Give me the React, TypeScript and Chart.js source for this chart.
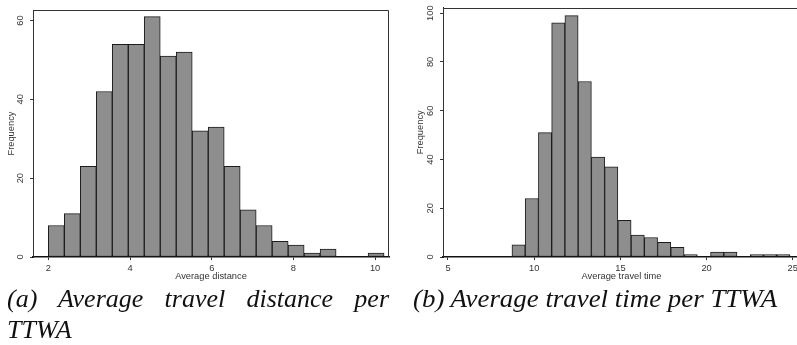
import React, { useEffect, useRef } from "react";
import { Chart, registerables } from "chart.js";

Chart.register(...registerables);

// ---- Data ----
const distanceCounts = [8, 11, 23, 42, 54, 54, 61, 51, 52, 32, 33, 23, 12, 8, 4, 3, 1, 2, 0, 0, 1];
const distanceBinStart = 2.0;
const distanceBinWidth = 0.3914;
const distanceXTicks = [2, 4, 6, 8, 10];
const distanceYTicks = [0, 20, 40, 60];

const timeCounts = [5, 24, 51, 96, 99, 72, 41, 37, 15, 9, 8, 6, 4, 1, 0, 2, 2, 0, 1, 1, 1];
const timeBinStart = 8.71;
const timeBinWidth = 0.768;
const timeXTicks = [5, 10, 15, 20, 25];
const timeYTicks = [0, 20, 40, 60, 80, 100];

const yTitle = "Frequency";
const distanceXTitle = "Average distance";
const timeXTitle = "Average travel time";
const captionA = "(a) Average travel distance per TTWA";
const captionB = "(b) Average travel time per TTWA";

const SANS = '"Liberation Sans", Arimo, Arial, sans-serif';
const SERIF = '"Liberation Serif", "Times New Roman", serif';

const framePlugin = {
  id: "frame",
  afterDatasetsDraw(chart: any) {
    const { ctx, chartArea } = chart;
    const { left, top, right, bottom } = chartArea;
    ctx.save();
    ctx.strokeStyle = "#333";
    ctx.lineWidth = 1;
    ctx.beginPath();
    ctx.moveTo(Math.round(left) + 0.5, bottom);
    ctx.lineTo(Math.round(left) + 0.5, Math.round(top) + 0.5);
    ctx.lineTo(Math.round(right) - 0.5, Math.round(top) + 0.5);
    ctx.lineTo(Math.round(right) - 0.5, bottom);
    ctx.stroke();
    ctx.restore();
  },
};

type HistProps = {
  counts: number[];
  binStart: number;
  binWidth: number;
  xTicks: number[];
  yTicks: number[];
  xTitle: string;
  xMin: number;
  xMax: number;
  yMax: number;
  left: number;
  width: number;
  height: number;
  padRight: number;
  yAxisWidth: number;
  xAxisHeight: number;
  yTickPad: number;
  yTitlePad: number;
};

function Histogram(p: HistProps) {
  const ref = useRef<HTMLCanvasElement | null>(null);
  useEffect(() => {
    if (!ref.current) return;
    const data = p.counts.map((c, i) => ({ x: p.binStart + (i + 0.5) * p.binWidth, y: c }));
    const tickFont = { family: SANS, size: 9.3 };
    const chart = new Chart(ref.current, {
      type: "bar",
      data: {
        datasets: [
          {
            data,
            backgroundColor: "#8e8e8e",
            borderColor: "#1c1c1c",
            borderWidth: 1,
            borderSkipped: false,
            barPercentage: 1,
            categoryPercentage: 1,
          } as any,
        ],
      },
      plugins: [framePlugin],
      options: {
        animation: false,
        responsive: false,
        maintainAspectRatio: false,
        layout: { padding: { left: 0, top: 5, right: p.padRight, bottom: 0 } },
        plugins: { legend: { display: false }, tooltip: { enabled: false } },
        scales: {
          x: {
            type: "linear",
            offset: false,
            min: p.xMin,
            max: p.xMax,
            afterBuildTicks: (s: any) => {
              s.ticks = p.xTicks.map((v) => ({ value: v }));
            },
            afterFit: (s: any) => {
              s.height = p.xAxisHeight;
            },
            ticks: {
              autoSkip: false,
              maxRotation: 0,
              minRotation: 0,
              padding: 3,
              color: "#333",
              font: tickFont,
              callback: (v: any) => String(v),
            },
            grid: {
              display: true,
              offset: false,
              drawOnChartArea: false,
              drawTicks: true,
              tickLength: 3,
              tickColor: "#333",
            },
            border: { display: true, color: "#111", width: 1.5 },
            title: {
              display: true,
              text: p.xTitle,
              color: "#333",
              font: { family: SANS, size: 9.3 },
              padding: { top: 0, bottom: 8.4 },
            },
          },
          y: {
            type: "linear",
            min: 0,
            max: p.yMax,
            afterBuildTicks: (s: any) => {
              s.ticks = p.yTicks.map((v) => ({ value: v }));
            },
            afterFit: (s: any) => {
              s.width = p.yAxisWidth;
            },
            ticks: {
              autoSkip: false,
              minRotation: 90,
              maxRotation: 90,
              crossAlign: "center",
              padding: p.yTickPad,
              color: "#333",
              font: tickFont,
              callback: (v: any) => String(v),
            },
            grid: {
              display: true,
              drawOnChartArea: false,
              drawTicks: true,
              tickLength: 3,
              tickColor: "#333",
            },
            border: { display: true, color: "#222", width: 1 },
            title: {
              display: true,
              text: yTitle,
              color: "#333",
              font: { family: SANS, size: 9.3 },
              padding: { top: p.yTitlePad, bottom: 0 },
            },
          },
        },
      } as any,
    });
    return () => chart.destroy();
  }, []);
  return (
    <canvas
      ref={ref}
      width={p.width}
      height={p.height}
      style={{ position: "absolute", left: p.left, top: 0, width: p.width, height: p.height }}
    />
  );
}

export default function App() {
  return (
    <div
      style={{
        position: "fixed",
        left: 0,
        top: 0,
        width: 797,
        height: 345,
        overflow: "hidden",
        background: "#fff",
      }}
    >
      <Histogram
        counts={distanceCounts}
        binStart={distanceBinStart}
        binWidth={distanceBinWidth}
        xTicks={distanceXTicks}
        yTicks={distanceYTicks}
        xTitle={distanceXTitle}
        xMin={1.625}
        xMax={10.34}
        yMax={62.66}
        left={0}
        width={395}
        height={290}
        padRight={6}
        yAxisWidth={33}
        xAxisHeight={33}
        yTickPad={4.5}
        yTitlePad={5.4}
      />
      <Histogram
        counts={timeCounts}
        binStart={timeBinStart}
        binWidth={timeBinWidth}
        xTicks={timeXTicks}
        yTicks={timeYTicks}
        xTitle={timeXTitle}
        xMin={4.71}
        xMax={25.42}
        yMax={102.3}
        left={395}
        width={410}
        height={290}
        padRight={5}
        yAxisWidth={48}
        xAxisHeight={33}
        yTickPad={2}
        yTitlePad={19.4}
      />
      <div
        style={{
          position: "absolute",
          left: 7,
          top: 283,
          width: 382,
          fontFamily: SERIF,
          fontStyle: "italic",
          fontSize: 26,
          lineHeight: "31px",
          textAlign: "justify",
          color: "#111",
        }}
      >
        {captionA}
      </div>
      <div
        style={{
          position: "absolute",
          left: 413,
          top: 283,
          fontFamily: SERIF,
          fontStyle: "italic",
          fontSize: 26,
          lineHeight: "31px",
          whiteSpace: "nowrap",
          color: "#111",
          transform: "scaleX(1.034)",
          transformOrigin: "0 0",
        }}
      >
        {captionB}
      </div>
    </div>
  );
}
